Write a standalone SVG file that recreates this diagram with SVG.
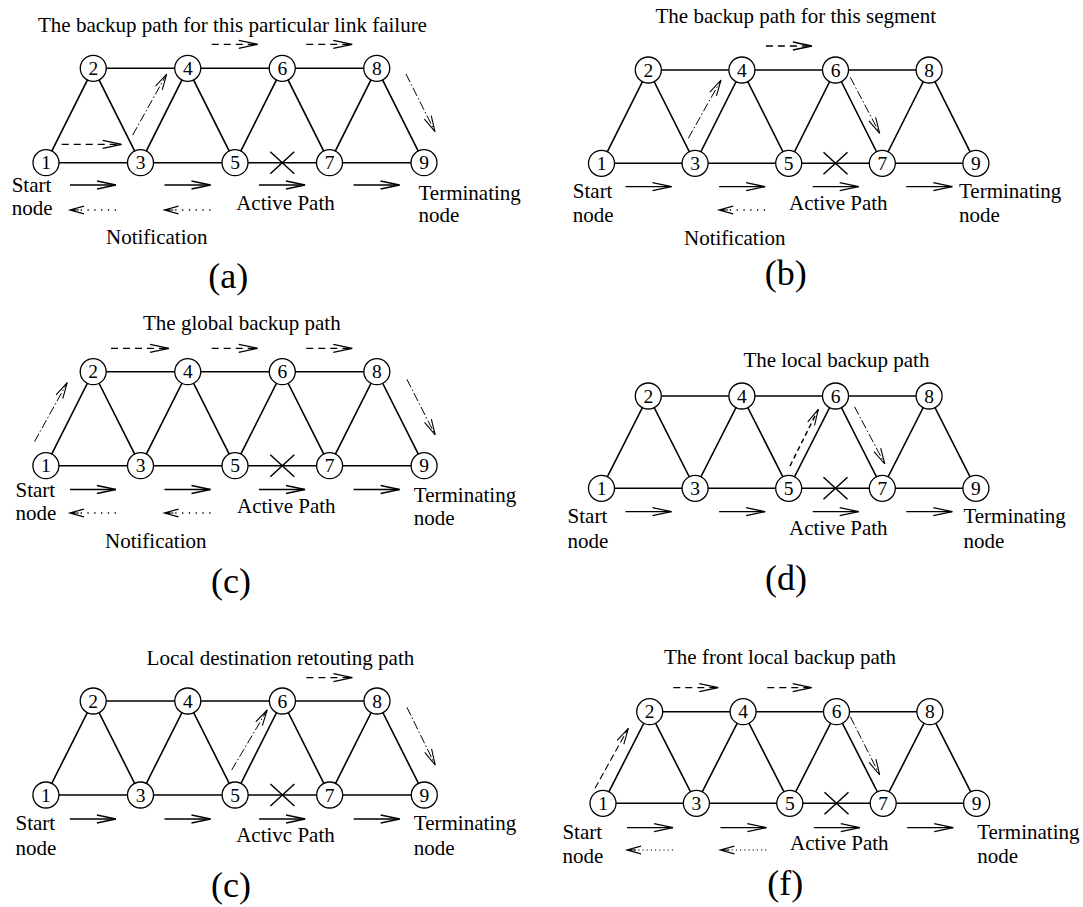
<svg xmlns="http://www.w3.org/2000/svg" width="1083" height="907" viewBox="0 0 1083 907">
<style>
.edge{stroke:#000;stroke-width:1.6;fill:none}
.node circle{fill:#fff;stroke:#000;stroke-width:1.3}
.node text{font-family:"Liberation Serif","Times New Roman",serif;font-size:19.5px;text-anchor:middle;fill:#000}
.lbl{font-family:"Liberation Serif","Times New Roman",serif;font-size:21px;fill:#000}
.cap{font-family:"Liberation Serif","Times New Roman",serif;font-size:36px;text-anchor:middle;fill:#000}
.fail{stroke:#000;stroke-width:1.5;fill:none}
.act{stroke:#000;stroke-width:1.3;fill:none;marker-end:url(#head)}
.notif{stroke:#000;stroke-width:1.3;fill:none;stroke-dasharray:1.3 5.5;marker-end:url(#headN)}
.notif2{stroke:#000;stroke-width:1.2;fill:none;stroke-dasharray:1.2 3;marker-end:url(#headN)}
.dash{stroke:#000;stroke-width:1.3;fill:none;stroke-dasharray:7 5;marker-end:url(#head)}
.dd{stroke:#000;stroke-width:1;fill:none;stroke-dasharray:9 2.5 1.5 2.5;marker-end:url(#headD)}
.dsh2{stroke:#000;stroke-width:1.5;fill:none;stroke-dasharray:5 3.5;marker-end:url(#headD)}
</style>
<defs>
<marker id="head" markerUnits="userSpaceOnUse" markerWidth="20" markerHeight="10" refX="0" refY="0" orient="auto" overflow="visible"><path d="M-19,-4 L0,0 L-19,4" fill="none" stroke="#000" stroke-width="1.3"/></marker>
<marker id="headN" markerUnits="userSpaceOnUse" markerWidth="16" markerHeight="10" refX="0" refY="0" orient="auto" overflow="visible"><path d="M-14,-3.8 L0,0 L-14,3.8 M-9,0 L0,0" fill="none" stroke="#000" stroke-width="1.2"/></marker>
<marker id="headD" markerUnits="userSpaceOnUse" markerWidth="18" markerHeight="10" refX="0" refY="0" orient="auto" overflow="visible"><path d="M-16,-3.8 L0,0 L-16,3.8" fill="none" stroke="#000" stroke-width="1.1"/></marker>
</defs>
<rect width="1083" height="907" fill="#fff"/>

<!-- Panel (a) -->
<g id="panel-a">
<g id="a-links">
<path class="edge" d="M46,162.7 H424 M93.25,68.3 H376.75 M46,162.7 L93.25,68.3 L140.5,162.7 L187.75,68.3 L235,162.7 L282.25,68.3 L329.5,162.7 L376.75,68.3 L424,162.7"/>
<path class="fail" d="M270.25,151.7 L294.25,173.7 M294.25,151.7 L270.25,173.7"/>
<line class="act" x1="70" y1="185" x2="116" y2="185"/>
<line class="act" x1="164.5" y1="185" x2="210.5" y2="185"/>
<line class="act" x1="259" y1="185" x2="305" y2="185"/>
<line class="act" x1="353.5" y1="185" x2="399.5" y2="185"/>
<line class="notif" x1="116" y1="210" x2="70" y2="210"/>
<line class="notif" x1="210.5" y1="210" x2="164.5" y2="210"/>
<line class="dash" x1="211.75" y1="44.3" x2="257.75" y2="44.3"/>
<line class="dash" x1="306.25" y1="44.3" x2="352.25" y2="44.3"/>
<line class="dash" x1="61.7" y1="144.3" x2="121.7" y2="144.3"/>
<line class="dd" x1="132.7" y1="135" x2="166.7" y2="74"/>
<line class="dd" x1="406" y1="74" x2="435" y2="131.7"/>
</g>
<g id="a-n1" class="node"><circle cx="46" cy="162.7" r="13"/><text x="46" y="169.4">1</text></g>
<g id="a-n2" class="node"><circle cx="93.25" cy="68.3" r="13"/><text x="93.25" y="75">2</text></g>
<g id="a-n3" class="node"><circle cx="140.5" cy="162.7" r="13"/><text x="140.5" y="169.4">3</text></g>
<g id="a-n4" class="node"><circle cx="187.75" cy="68.3" r="13"/><text x="187.75" y="75">4</text></g>
<g id="a-n5" class="node"><circle cx="235" cy="162.7" r="13"/><text x="235" y="169.4">5</text></g>
<g id="a-n6" class="node"><circle cx="282.25" cy="68.3" r="13"/><text x="282.25" y="75">6</text></g>
<g id="a-n7" class="node"><circle cx="329.5" cy="162.7" r="13"/><text x="329.5" y="169.4">7</text></g>
<g id="a-n8" class="node"><circle cx="376.75" cy="68.3" r="13"/><text x="376.75" y="75">8</text></g>
<g id="a-n9" class="node"><circle cx="424" cy="162.7" r="13"/><text x="424" y="169.4">9</text></g>
<text class="lbl" x="38" y="32.3">The backup path for this particular link failure</text>
<text class="lbl" x="11.7" y="191.7">Start</text>
<text class="lbl" x="11.7" y="215">node</text>
<text class="lbl" x="236.2" y="210">Active Path</text>
<text class="lbl" x="418.5" y="200">Terminating</text>
<text class="lbl" x="418.5" y="221.7">node</text>
<text class="lbl" x="106" y="244.3">Notification</text>
<text class="cap" x="228.3" y="288">(a)</text>
</g>

<!-- Panel (b) -->
<g id="panel-b">
<g id="b-links">
<path class="edge" d="M601.5,163.3 H975.9 M648.3,70 H929.1 M601.5,163.3 L648.3,70 L695.1,163.3 L741.9,70 L788.7,163.3 L835.5,70 L882.3,163.3 L929.1,70 L975.9,163.3"/>
<path class="fail" d="M823.5,152.3 L847.5,174.3 M847.5,152.3 L823.5,174.3"/>
<line class="act" x1="625.5" y1="186.7" x2="671.5" y2="186.7"/>
<line class="act" x1="719.1" y1="186.7" x2="765.1" y2="186.7"/>
<line class="act" x1="812.7" y1="186.7" x2="858.7" y2="186.7"/>
<line class="act" x1="906.3" y1="186.7" x2="952.3" y2="186.7"/>
<line class="notif" x1="765.1" y1="210" x2="719.1" y2="210"/>
<line class="dash" x1="765.9" y1="46" x2="811.9" y2="46"/>
<line class="dd" x1="688.3" y1="138.3" x2="721" y2="80"/>
<line class="dd" x1="850.3" y1="77.3" x2="879.7" y2="133.3"/>
</g>
<g id="b-n1" class="node"><circle cx="601.5" cy="163.3" r="13"/><text x="601.5" y="170">1</text></g>
<g id="b-n2" class="node"><circle cx="648.3" cy="70" r="13"/><text x="648.3" y="76.7">2</text></g>
<g id="b-n3" class="node"><circle cx="695.1" cy="163.3" r="13"/><text x="695.1" y="170">3</text></g>
<g id="b-n4" class="node"><circle cx="741.9" cy="70" r="13"/><text x="741.9" y="76.7">4</text></g>
<g id="b-n5" class="node"><circle cx="788.7" cy="163.3" r="13"/><text x="788.7" y="170">5</text></g>
<g id="b-n6" class="node"><circle cx="835.5" cy="70" r="13"/><text x="835.5" y="76.7">6</text></g>
<g id="b-n7" class="node"><circle cx="882.3" cy="163.3" r="13"/><text x="882.3" y="170">7</text></g>
<g id="b-n8" class="node"><circle cx="929.1" cy="70" r="13"/><text x="929.1" y="76.7">8</text></g>
<g id="b-n9" class="node"><circle cx="975.9" cy="163.3" r="13"/><text x="975.9" y="170">9</text></g>
<text class="lbl" x="655.5" y="22.7">The backup path for this segment</text>
<text class="lbl" x="572.8" y="198.3">Start</text>
<text class="lbl" x="572.8" y="222">node</text>
<text class="lbl" x="789" y="210">Active Path</text>
<text class="lbl" x="959" y="198.3">Terminating</text>
<text class="lbl" x="959" y="221.7">node</text>
<text class="lbl" x="684" y="245">Notification</text>
<text class="cap" x="785.7" y="285">(b)</text>
</g>

<!-- Panel (c) -->
<g id="panel-c">
<g id="c-links">
<path class="edge" d="M45.9,465.7 H424.1 M93.2,371.7 H376.85 M45.9,465.7 L93.2,371.7 L140.5,465.7 L187.75,371.7 L235,465.7 L282.3,371.7 L329.6,465.7 L376.85,371.7 L424.1,465.7"/>
<path class="fail" d="M270.3,454.7 L294.3,476.7 M294.3,454.7 L270.3,476.7"/>
<line class="act" x1="69.9" y1="489.5" x2="115.9" y2="489.5"/>
<line class="act" x1="164.5" y1="489.5" x2="210.5" y2="489.5"/>
<line class="act" x1="259" y1="489.5" x2="305" y2="489.5"/>
<line class="act" x1="353.6" y1="489.5" x2="399.6" y2="489.5"/>
<line class="notif" x1="115.9" y1="513" x2="69.9" y2="513"/>
<line class="notif" x1="210.5" y1="513" x2="164.5" y2="513"/>
<line class="dash" x1="111" y1="348.3" x2="169" y2="348.3"/>
<line class="dash" x1="211.7" y1="348.3" x2="257.7" y2="348.3"/>
<line class="dash" x1="306.3" y1="348.3" x2="352.3" y2="348.3"/>
<line class="dd" x1="34.5" y1="441.7" x2="67.2" y2="382.7"/>
<line class="dd" x1="406.9" y1="379.3" x2="435.2" y2="435"/>
</g>
<g id="c-n1" class="node"><circle cx="45.9" cy="465.7" r="13"/><text x="45.9" y="472.4">1</text></g>
<g id="c-n2" class="node"><circle cx="93.2" cy="371.7" r="13"/><text x="93.2" y="378.4">2</text></g>
<g id="c-n3" class="node"><circle cx="140.5" cy="465.7" r="13"/><text x="140.5" y="472.4">3</text></g>
<g id="c-n4" class="node"><circle cx="187.75" cy="371.7" r="13"/><text x="187.75" y="378.4">4</text></g>
<g id="c-n5" class="node"><circle cx="235" cy="465.7" r="13"/><text x="235" y="472.4">5</text></g>
<g id="c-n6" class="node"><circle cx="282.3" cy="371.7" r="13"/><text x="282.3" y="378.4">6</text></g>
<g id="c-n7" class="node"><circle cx="329.6" cy="465.7" r="13"/><text x="329.6" y="472.4">7</text></g>
<g id="c-n8" class="node"><circle cx="376.85" cy="371.7" r="13"/><text x="376.85" y="378.4">8</text></g>
<g id="c-n9" class="node"><circle cx="424.1" cy="465.7" r="13"/><text x="424.1" y="472.4">9</text></g>
<text class="lbl" x="143" y="330">The global backup path</text>
<text class="lbl" x="15.5" y="496.7">Start</text>
<text class="lbl" x="15.5" y="520">node</text>
<text class="lbl" x="237" y="513.3">Active Path</text>
<text class="lbl" x="413.8" y="501.7">Terminating</text>
<text class="lbl" x="413.8" y="525">node</text>
<text class="lbl" x="105" y="548.3">Notification</text>
<text class="cap" x="231" y="593">(c)</text>
</g>

<!-- Panel (d) -->
<g id="panel-d">
<g id="d-links">
<path class="edge" d="M601.5,488.3 H975.9 M648.3,396 H929.1 M601.5,488.3 L648.3,396 L695.1,488.3 L741.9,396 L788.7,488.3 L835.5,396 L882.3,488.3 L929.1,396 L975.9,488.3"/>
<path class="fail" d="M823.5,477.3 L847.5,499.3 M847.5,477.3 L823.5,499.3"/>
<line class="act" x1="625.5" y1="511.7" x2="671.5" y2="511.7"/>
<line class="act" x1="719.1" y1="511.7" x2="765.1" y2="511.7"/>
<line class="act" x1="812.7" y1="511.7" x2="858.7" y2="511.7"/>
<line class="act" x1="906.3" y1="511.7" x2="952.3" y2="511.7"/>
<line class="dsh2" x1="790" y1="466" x2="818.3" y2="409.3"/>
<line class="dd" x1="854.5" y1="406.7" x2="884.8" y2="464"/>
</g>
<g id="d-n1" class="node"><circle cx="601.5" cy="488.3" r="13"/><text x="601.5" y="495">1</text></g>
<g id="d-n2" class="node"><circle cx="648.3" cy="396" r="13"/><text x="648.3" y="402.7">2</text></g>
<g id="d-n3" class="node"><circle cx="695.1" cy="488.3" r="13"/><text x="695.1" y="495">3</text></g>
<g id="d-n4" class="node"><circle cx="741.9" cy="396" r="13"/><text x="741.9" y="402.7">4</text></g>
<g id="d-n5" class="node"><circle cx="788.7" cy="488.3" r="13"/><text x="788.7" y="495">5</text></g>
<g id="d-n6" class="node"><circle cx="835.5" cy="396" r="13"/><text x="835.5" y="402.7">6</text></g>
<g id="d-n7" class="node"><circle cx="882.3" cy="488.3" r="13"/><text x="882.3" y="495">7</text></g>
<g id="d-n8" class="node"><circle cx="929.1" cy="396" r="13"/><text x="929.1" y="402.7">8</text></g>
<g id="d-n9" class="node"><circle cx="975.9" cy="488.3" r="13"/><text x="975.9" y="495">9</text></g>
<text class="lbl" x="743.4" y="366.5">The local backup path</text>
<text class="lbl" x="567.6" y="523.3">Start</text>
<text class="lbl" x="567.6" y="548.3">node</text>
<text class="lbl" x="789" y="535">Active Path</text>
<text class="lbl" x="963.4" y="523.3">Terminating</text>
<text class="lbl" x="963.4" y="548.3">node</text>
<text class="cap" x="786" y="590">(d)</text>
</g>

<!-- Panel (e) -->
<g id="panel-e">
<g id="e-links">
<path class="edge" d="M45.9,795 H424.3 M93.2,701 H377 M45.9,795 L93.2,701 L140.5,795 L187.8,701 L235.1,795 L282.4,701 L329.7,795 L377,701 L424.3,795"/>
<path class="fail" d="M270.4,784 L294.4,806 M294.4,784 L270.4,806"/>
<line class="act" x1="69.9" y1="819" x2="115.9" y2="819"/>
<line class="act" x1="164.5" y1="819" x2="210.5" y2="819"/>
<line class="act" x1="259.1" y1="819" x2="305.1" y2="819"/>
<line class="act" x1="353.7" y1="819" x2="399.7" y2="819"/>
<line class="dash" x1="306.4" y1="677.7" x2="352.4" y2="677.7"/>
<line class="dd" x1="231.7" y1="770" x2="267.2" y2="710"/>
<line class="dd" x1="406.9" y1="707.3" x2="435.2" y2="765"/>
</g>
<g id="e-n1" class="node"><circle cx="45.9" cy="795" r="13"/><text x="45.9" y="801.7">1</text></g>
<g id="e-n2" class="node"><circle cx="93.2" cy="701" r="13"/><text x="93.2" y="707.7">2</text></g>
<g id="e-n3" class="node"><circle cx="140.5" cy="795" r="13"/><text x="140.5" y="801.7">3</text></g>
<g id="e-n4" class="node"><circle cx="187.8" cy="701" r="13"/><text x="187.8" y="707.7">4</text></g>
<g id="e-n5" class="node"><circle cx="235.1" cy="795" r="13"/><text x="235.1" y="801.7">5</text></g>
<g id="e-n6" class="node"><circle cx="282.4" cy="701" r="13"/><text x="282.4" y="707.7">6</text></g>
<g id="e-n7" class="node"><circle cx="329.7" cy="795" r="13"/><text x="329.7" y="801.7">7</text></g>
<g id="e-n8" class="node"><circle cx="377" cy="701" r="13"/><text x="377" y="707.7">8</text></g>
<g id="e-n9" class="node"><circle cx="424.3" cy="795" r="13"/><text x="424.3" y="801.7">9</text></g>
<text class="lbl" x="146.6" y="665">Local destination retouting path</text>
<text class="lbl" x="15.5" y="830">Start</text>
<text class="lbl" x="15.5" y="855">node</text>
<text class="lbl" x="236.2" y="841.7">Activc Path</text>
<text class="lbl" x="413.8" y="830">Terminating</text>
<text class="lbl" x="413.8" y="855">node</text>
<text class="cap" x="231" y="897">(c)</text>
</g>

<!-- Panel (f) -->
<g id="panel-f">
<g id="f-links">
<path class="edge" d="M603,803.3 H976.6 M649.7,711.7 H929.9 M603,803.3 L649.7,711.7 L696.4,803.3 L743.1,711.7 L789.8,803.3 L836.5,711.7 L883.2,803.3 L929.9,711.7 L976.6,803.3"/>
<path class="fail" d="M824.5,792.3 L848.5,814.3 M848.5,792.3 L824.5,814.3"/>
<line class="act" x1="627" y1="827.7" x2="673" y2="827.7"/>
<line class="act" x1="720.4" y1="827.7" x2="766.4" y2="827.7"/>
<line class="act" x1="813.8" y1="827.7" x2="859.8" y2="827.7"/>
<line class="act" x1="907.2" y1="827.7" x2="953.2" y2="827.7"/>
<line class="notif2" x1="673" y1="850" x2="627" y2="850"/>
<line class="notif2" x1="766.4" y1="850" x2="720.4" y2="850"/>
<line class="dash" x1="673.3" y1="687.7" x2="718.3" y2="687.7"/>
<line class="dash" x1="767.3" y1="687.7" x2="811.7" y2="687.7"/>
<line class="dsh2" x1="595" y1="788.3" x2="628.3" y2="728.3" style="stroke-width:1.1;stroke-dasharray:7 3.5"/>
<line class="dd" x1="850.3" y1="716.7" x2="879.7" y2="775"/>
</g>
<g id="f-n1" class="node"><circle cx="603" cy="803.3" r="13"/><text x="603" y="810">1</text></g>
<g id="f-n2" class="node"><circle cx="649.7" cy="711.7" r="13"/><text x="649.7" y="718.4">2</text></g>
<g id="f-n3" class="node"><circle cx="696.4" cy="803.3" r="13"/><text x="696.4" y="810">3</text></g>
<g id="f-n4" class="node"><circle cx="743.1" cy="711.7" r="13"/><text x="743.1" y="718.4">4</text></g>
<g id="f-n5" class="node"><circle cx="789.8" cy="803.3" r="13"/><text x="789.8" y="810">5</text></g>
<g id="f-n6" class="node"><circle cx="836.5" cy="711.7" r="13"/><text x="836.5" y="718.4">6</text></g>
<g id="f-n7" class="node"><circle cx="883.2" cy="803.3" r="13"/><text x="883.2" y="810">7</text></g>
<g id="f-n8" class="node"><circle cx="929.9" cy="711.7" r="13"/><text x="929.9" y="718.4">8</text></g>
<g id="f-n9" class="node"><circle cx="976.6" cy="803.3" r="13"/><text x="976.6" y="810">9</text></g>
<text class="lbl" x="664" y="664">The front local backup path</text>
<text class="lbl" x="562.4" y="839.3">Start</text>
<text class="lbl" x="562.4" y="863.3">node</text>
<text class="lbl" x="790" y="850">Active Path</text>
<text class="lbl" x="977.2" y="839.3">Terminating</text>
<text class="lbl" x="977.2" y="863.3">node</text>
<text class="cap" x="785.3" y="895">(f)</text>
</g>
</svg>
